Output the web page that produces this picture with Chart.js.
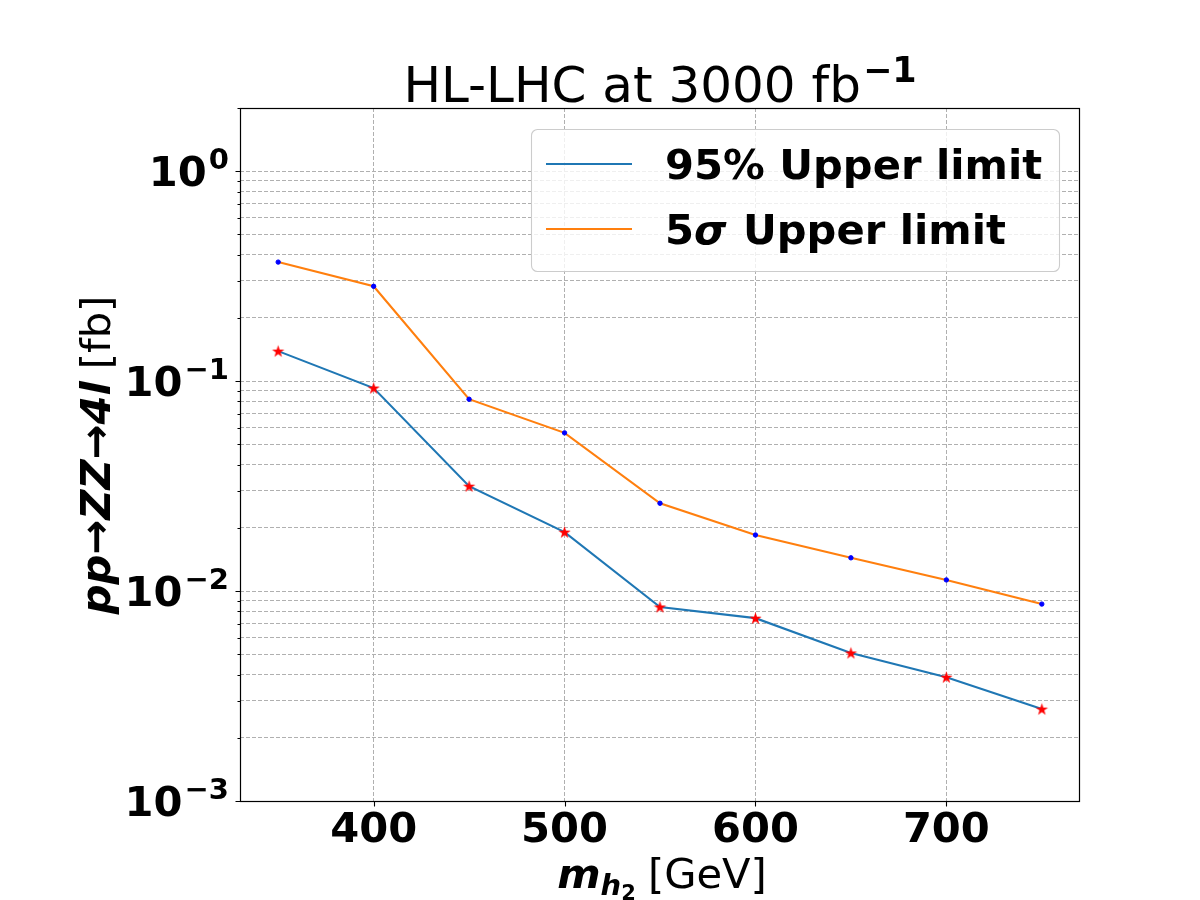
<!DOCTYPE html>
<html lang="en">
<head>
<meta charset="UTF-8">
<title>HL-LHC at 3000 fb-1</title>
<script src="https://cdn.jsdelivr.net/npm/chart.js@4"></script>
<style>
  body { margin: 0; background: #ffffff; }
  #wrap { width: 1200px; height: 900px; }
</style>
</head>
<body>
<div id="wrap"><canvas id="limits" width="1200" height="900"></canvas></div>
<script>
// heavy scalar mass m_h2 [GeV]
const massPoints = [350, 400, 450, 500, 550, 600, 650, 700, 750];
// pp -> ZZ -> 4l cross section limits [fb]
const limit95 = [0.139, 0.0927, 0.0316, 0.0191, 0.0084, 0.00743, 0.00507, 0.00389, 0.00274];
const limit5sigma = [0.369, 0.283, 0.082, 0.0567, 0.0262, 0.0185, 0.0144, 0.0113, 0.00867];

const xTicks = [400, 500, 600, 700];
const yMajorTicks = [0.001, 0.01, 0.1, 1];
const yMajorExp = ['\u22123', '\u22122', '\u22121', '0'];

const FAM = '"DejaVu Sans"';
const font = (size, weight, style) => `${style || 'normal'} ${weight || 'normal'} ${size}px ${FAM}`;

// minor log ticks 2..9 in every decade (axis positions only)
const yMinorTicks = [];
yMajorTicks.forEach(d => { for (let m = 2; m <= 9; m++) { if (d * m <= 2.0001) yMinorTicks.push(+(d * m).toPrecision(3)); } });
const yAllTicks = yMajorTicks.concat(yMinorTicks).sort((a, b) => a - b);

// filled red star like matplotlib's '*'
const starImg = (() => {
  const c = document.createElement('canvas');
  c.width = 15; c.height = 15;
  const g = c.getContext('2d');
  g.beginPath();
  for (let k = 0; k < 10; k++) {
    const r = k % 2 ? 2.5 : 6.5;
    const a = -Math.PI / 2 + k * Math.PI / 5;
    const px = 7.5 + r * Math.cos(a), py = 8 + r * Math.sin(a);
    if (k) g.lineTo(px, py); else g.moveTo(px, py);
  }
  g.closePath();
  g.fillStyle = '#ff0000';
  g.fill();
  return c;
})();

function runWidth(ctx, parts) {
  let w = 0;
  parts.forEach(p => { ctx.font = p.f; w += ctx.measureText(p.t).width + (p.gap || 0); });
  return w;
}
function drawRun(ctx, parts, x, y) {
  parts.forEach(p => {
    ctx.font = p.f;
    ctx.fillText(p.t, x, y + (p.dy || 0));
    x += ctx.measureText(p.t).width + (p.gap || 0);
  });
}

const decor = {
  id: 'decor',
  afterDraw(chart) {
    const { ctx, chartArea: a, scales: { x, y } } = chart;
    ctx.save();
    ctx.fillStyle = '#000';
    ctx.strokeStyle = '#000';
    ctx.textBaseline = 'alphabetic';
    ctx.textAlign = 'left';

    // spines
    ctx.lineWidth = 1.2;
    const L = Math.round(a.left) + 0.5, T = Math.round(a.top) + 0.5;
    const R = Math.round(a.right) - 0.5, B = Math.round(a.bottom) + 0.5;
    ctx.strokeRect(L, T, R - L, B - T);

    // tick marks
    ctx.lineWidth = 1.1;
    ctx.beginPath();
    yAllTicks.forEach(v => {
      const py = Math.round(y.getPixelForValue(v)) + 0.5;
      const len = yMajorTicks.includes(v) ? 5 : 3;
      ctx.moveTo(L - len, py); ctx.lineTo(L, py);
    });
    xTicks.forEach(v => {
      const px = Math.round(x.getPixelForValue(v)) + 0.5;
      ctx.moveTo(px, B); ctx.lineTo(px, B + 5);
    });
    ctx.stroke();

    // x tick labels
    ctx.font = font(41.67, 'bold');
    ctx.textAlign = 'center';
    xTicks.forEach(v => ctx.fillText(String(v), x.getPixelForValue(v), 842));
    ctx.textAlign = 'left';

    // y tick labels 10^n
    yMajorTicks.forEach((v, i) => {
      const parts = [
        { t: '10', f: font(41.67, 'bold'), gap: 2 },
        { t: yMajorExp[i], f: font(29, 'bold'), dy: -17 }
      ];
      const w = runWidth(ctx, parts);
      drawRun(ctx, parts, 229 - w, y.getPixelForValue(v) + 15);
    });

    // title
    const title = [
      { t: 'HL-LHC at 3000 fb', f: font(50), gap: 2 },
      { t: '\u22121', f: font(35, 'bold'), dy: -20 }
    ];
    drawRun(ctx, title, 660 - runWidth(ctx, title) / 2, 102);

    // x axis label
    const xl = [
      { t: 'm', f: font(41.67, 'bold', 'italic') },
      { t: 'h', f: font(29, 'bold', 'italic'), dy: 7 },
      { t: '2', f: font(21, 'bold'), dy: 12, gap: 12 },
      { t: '[GeV]', f: font(41.67) }
    ];
    drawRun(ctx, xl, 662 - runWidth(ctx, xl) / 2, 888);

    // y axis label (rotated)
    ctx.save();
    ctx.translate(110, 455);
    ctx.rotate(-Math.PI / 2);
    const yl = [
      { t: 'pp\u2192ZZ\u21924l', f: font(41.67, 'bold', 'italic'), gap: 12 },
      { t: '[fb]', f: font(41.67) }
    ];
    drawRun(ctx, yl, -runWidth(ctx, yl) / 2, 0);
    ctx.restore();

    // legend box
    const bx = 531.5, by = 129.5, bw = 528, bh = 142, r = 6;
    ctx.beginPath();
    ctx.moveTo(bx + r, by);
    ctx.arcTo(bx + bw, by, bx + bw, by + bh, r);
    ctx.arcTo(bx + bw, by + bh, bx, by + bh, r);
    ctx.arcTo(bx, by + bh, bx, by, r);
    ctx.arcTo(bx, by, bx + bw, by, r);
    ctx.closePath();
    ctx.fillStyle = 'rgba(255,255,255,0.8)';
    ctx.fill();
    ctx.strokeStyle = '#cccccc';
    ctx.lineWidth = 1.1;
    ctx.stroke();

    const entries = [
      { color: '#1f77b4', cy: 164, parts: [{ t: '95% Upper limit', f: font(41.67, 'bold') }] },
      { color: '#ff7f0e', cy: 229, parts: [
        { t: '5', f: font(41.67, 'bold') },
        { t: '\u03c3', f: font(41.67, 'bold', 'italic'), gap: 2 },
        { t: ' Upper limit', f: font(41.67, 'bold') }
      ] }
    ];
    entries.forEach(e => {
      ctx.strokeStyle = e.color;
      ctx.lineWidth = 2.1;
      ctx.beginPath();
      ctx.moveTo(546, e.cy); ctx.lineTo(632, e.cy);
      ctx.stroke();
      ctx.fillStyle = '#000';
      drawRun(ctx, e.parts, 665, e.cy + 15);
    });
    ctx.restore();
  }
};

const toXY = vals => massPoints.map((m, i) => ({ x: m, y: vals[i] }));

new Chart(document.getElementById('limits'), {
  type: 'line',
  data: {
    datasets: [
      {
        label: '95% Upper limit',
        data: toXY(limit95),
        borderColor: '#1f77b4',
        borderWidth: 2.1,
        pointStyle: starImg,
        pointRadius: 6,
        tension: 0
      },
      {
        label: '5\u03c3 Upper limit',
        data: toXY(limit5sigma),
        borderColor: '#ff7f0e',
        borderWidth: 2.1,
        pointStyle: 'circle',
        pointRadius: 2.2,
        pointBorderWidth: 1,
        pointBackgroundColor: '#0000ff',
        pointBorderColor: '#0000ff',
        tension: 0
      }
    ]
  },
  options: {
    responsive: false,
    animation: false,
    devicePixelRatio: 1,
    layout: { padding: { left: 0, top: 108, right: 120, bottom: 0 } },
    plugins: { legend: { display: false }, tooltip: { enabled: false }, title: { display: false } },
    scales: {
      x: {
        type: 'linear',
        min: 330,
        max: 770,
        afterBuildTicks: s => { s.ticks = xTicks.map(v => ({ value: v })); },
        afterFit: s => { s.height = 99; },
        ticks: { display: false },
        grid: { color: '#b0b0b0', lineWidth: 1, drawTicks: false },
        border: { display: false, dash: [4, 2] }
      },
      y: {
        type: 'logarithmic',
        min: 0.001,
        max: 2,
        afterBuildTicks: s => { s.ticks = yAllTicks.map(v => ({ value: v, major: yMajorTicks.includes(v) })); },
        afterFit: s => { s.width = 240; },
        ticks: { display: false },
        grid: { color: '#b0b0b0', lineWidth: 1, drawTicks: false },
        border: { display: false, dash: [4, 2] }
      }
    }
  },
  plugins: [decor]
});
</script>
</body>
</html>
